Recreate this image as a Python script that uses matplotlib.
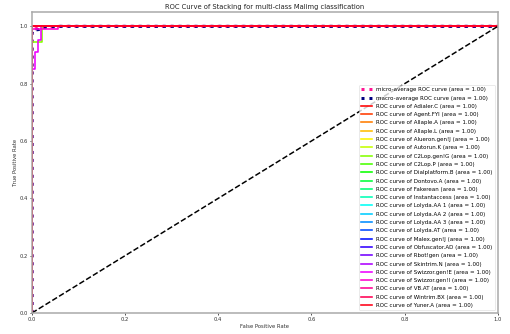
import numpy as np
import matplotlib
matplotlib.use("Agg")
import matplotlib.pyplot as plt

# Malimg families
class_names = [
    "Adialer.C", "Agent.FYI", "Allaple.A", "Allaple.L", "Alueron.gen!J",
    "Autorun.K", "C2Lop.gen!G", "C2Lop.P", "Dialplatform.B", "Dontovo.A",
    "Fakerean", "Instantaccess", "Lolyda.AA 1", "Lolyda.AA 2", "Lolyda.AA 3",
    "Lolyda.AT", "Malex.gen!J", "Obfuscator.AD", "Rbot!gen", "Skintrim.N",
    "Swizzor.gen!E", "Swizzor.gen!I", "VB.AT", "Wintrim.BX", "Yuner.A",
]
class_auc = [1.00] * 25

# perfectly separated classes
perfect_fpr = [0.0, 0.0, 1.0]
perfect_tpr = [0.0, 1.0, 1.0]

# classes with a few misclassified samples
c2lop_g_fpr = [0.0, 0.0, 0.001, 0.001, 0.022, 0.022, 1.0]
c2lop_g_tpr = [0.0, 0.75, 0.75, 0.945, 0.945, 1.0, 1.0]

swizzor_e_fpr = [0.0, 0.0, 0.001, 0.001, 0.006, 0.006, 0.014, 0.014, 0.02, 0.02, 1.0]
swizzor_e_tpr = [0.0, 0.63, 0.63, 0.85, 0.85, 0.91, 0.91, 0.952, 0.952, 1.0, 1.0]

swizzor_i_fpr = [0.0, 0.0, 0.056, 0.056, 1.0]
swizzor_i_tpr = [0.0, 0.99, 0.99, 1.0, 1.0]

# averaged curves
micro_fpr = [0.0, 0.0, 0.001, 0.02, 0.056, 1.0]
micro_tpr = [0.0, 0.98, 0.99, 0.995, 1.0, 1.0]
micro_auc = 1.00

macro_fpr = [0.0, 0.0, 0.001, 0.006, 0.015, 0.022, 0.056, 1.0]
macro_tpr = [0.0, 0.975, 0.984, 0.987, 0.989, 0.996, 1.0, 1.0]
macro_auc = 1.00

curves = {
    "C2Lop.gen!G": (c2lop_g_fpr, c2lop_g_tpr),
    "Swizzor.gen!E": (swizzor_e_fpr, swizzor_e_tpr),
    "Swizzor.gen!I": (swizzor_i_fpr, swizzor_i_tpr),
}

DPI = 36
fig = plt.figure(figsize=(510 / DPI, 334 / DPI), dpi=DPI)
ax = fig.add_axes([0.0627, 0.063, 0.9133, 0.901])

ax.plot(micro_fpr, micro_tpr, color="deeppink", linestyle=":", linewidth=6,
        label="micro-average ROC curve (area = {0:0.2f})".format(micro_auc))
ax.plot(macro_fpr, macro_tpr, color="navy", linestyle=":", linewidth=6,
        label="macro-average ROC curve (area = {0:0.2f})".format(macro_auc))

colors = plt.cm.hsv(np.linspace(0, 1, len(class_names)))
for name, auc, color in zip(class_names, class_auc, colors):
    fpr, tpr = curves.get(name, (perfect_fpr, perfect_tpr))
    ax.plot(fpr, tpr, color=color, lw=3.2,
            label="ROC curve of {0} (area = {1:0.2f})".format(name, auc))

ax.plot([0, 1], [0, 1], "k--", lw=3)
ax.set_xlim([0.0, 1.0])
ax.set_ylim([0.0, 1.05])
ax.set_xlabel("False Positive Rate", color="#333333", fontsize=10.5)
ax.set_ylabel("True Positive Rate", color="#333333", fontsize=10.5)
ax.set_title("ROC Curve of Stacking for multi-class Malimg classification",
             fontsize=13.5, color="#222222")
for s in ax.spines.values():
    s.set_color("#a8a8a8")
    s.set_linewidth(3)
ax.tick_params(colors="#555555", labelcolor="#333333", width=2, length=4,
               labelsize=10.5)
leg = ax.legend(loc="lower right", fontsize=11, labelspacing=0.6)
leg.get_frame().set_edgecolor("#cccccc")

fig.savefig("out.png", dpi=DPI)
